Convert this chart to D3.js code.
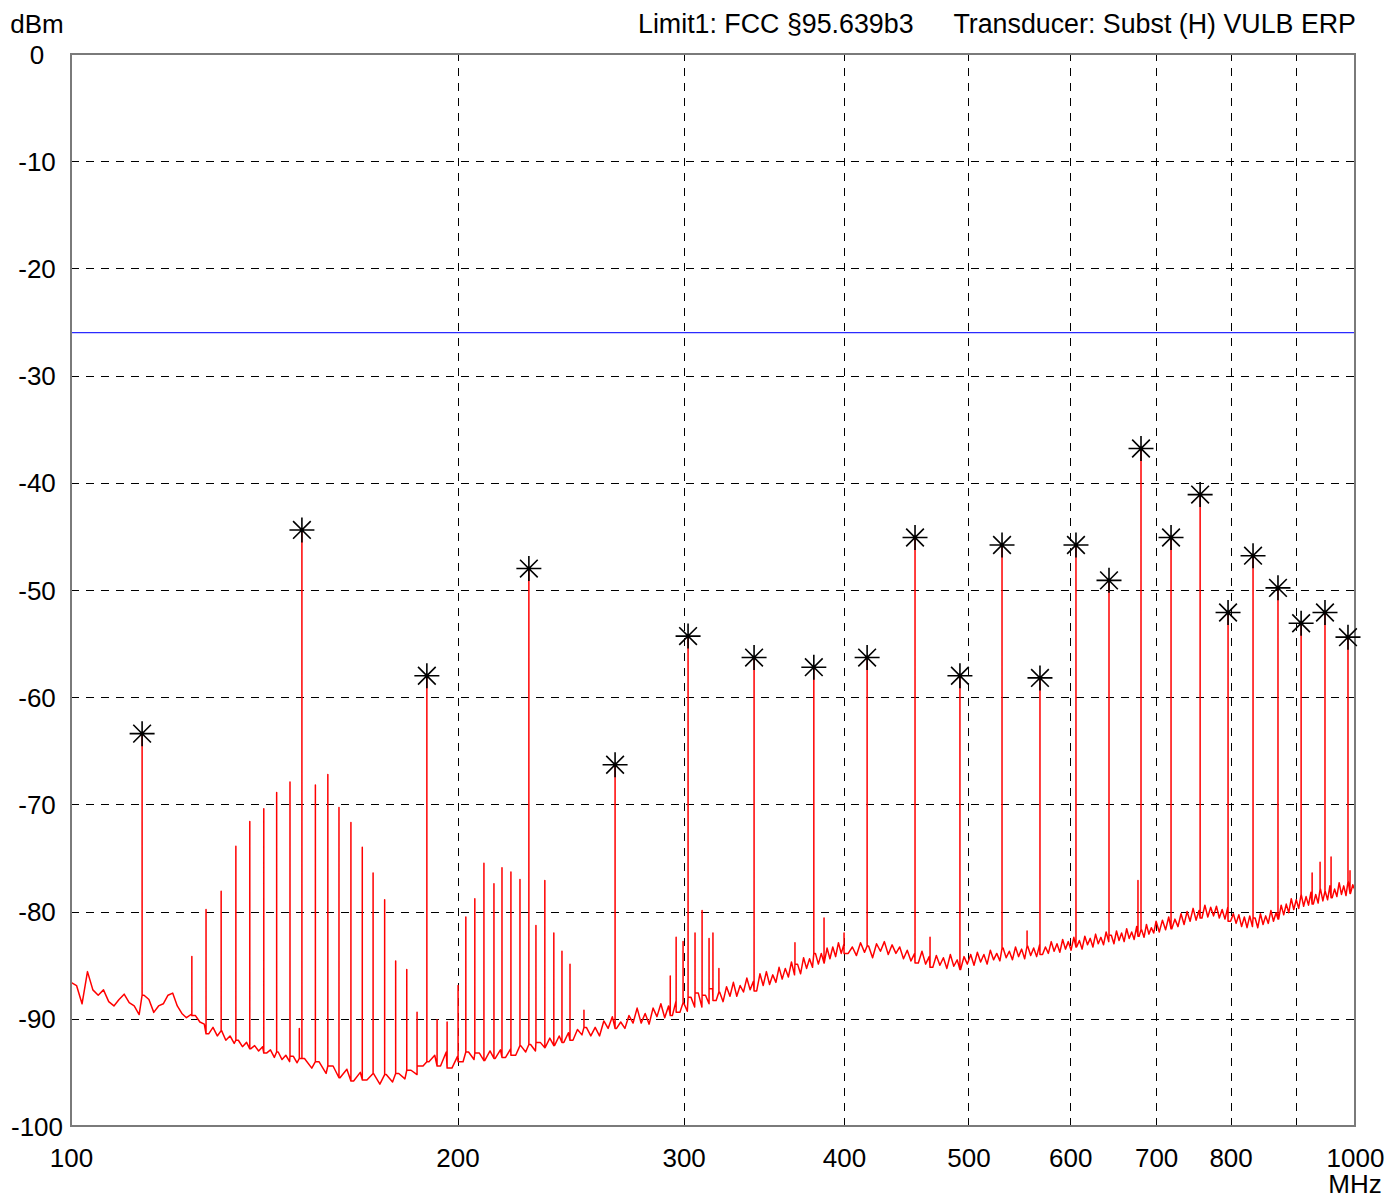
<!DOCTYPE html>
<html>
<head>
<meta charset="utf-8">
<script src="https://cdn.jsdelivr.net/npm/d3@7"></script>
<style>
body { margin: 0; background: #fff; }
text { font-family: "Liberation Sans", Arial, sans-serif; font-size: 26px; fill: #000; }
</style>
</head>
<body>
<div id="container"></div>
<script>
let WIDTH = 1387;
let HEIGHT = 1198;
let LEFT = 71, TOP = 54, RIGHT = 1355, BOTTOM = 1126;

// limit line (dBm)
let limitLevel = -26;

let xTicks = [100, 200, 300, 400, 500, 600, 700, 800, 900, 1000];
let xTickLabels = ["100", "200", "300", "400", "500", "600", "700", "800", "", "1000"];
let yTicks = [0, -10, -20, -30, -40, -50, -60, -70, -80, -90, -100];

// noise floor of the sweep, [MHz, dBm]
let floorTrace = [
    [100, -86.6], [101, -86.9], [102, -88.6], [103, -85.6], [104, -87.3], [105, -87.8],
    [106, -87.3], [107, -88.4], [108, -88.8], [109, -88.2], [110, -87.7], [111, -88.5],
    [112, -88.8], [113, -89.6], [114, -87.8], [115, -88.2], [116, -89.4], [117, -88.8],
    [118, -88.6], [119, -87.8], [120, -87.6], [121, -88.8], [122, -89.5], [123, -89.9],
    [124, -89.6], [125, -89.7], [126, -90.3], [127, -90.5], [128, -91.4], [129, -90.8],
    [130, -91.6], [131, -91.1], [132, -92.0], [133, -91.6], [134, -92.3], [135, -92.0],
    [136, -92.6], [137, -92.2], [138, -92.8], [139, -92.5], [140, -93.0], [141, -92.6],
    [142, -93.2], [143, -92.9], [144, -93.6], [145, -93.1], [146, -93.8], [147, -93.4],
    [148, -94.0], [149, -93.5], [150, -94.1],
    [152, -93.7], [154, -94.6], [156, -94.0], [158, -95.1], [160, -94.4], [162, -95.5],
    [164, -94.7], [166, -95.8], [168, -95.0], [170, -95.7], [172, -95.1], [174, -96.1],
    [176, -95.2], [178, -95.9], [180, -95.1], [182, -95.6], [184, -94.8], [186, -95.2],
    [188, -94.4], [190, -94.0], [192, -93.4], [194, -94.4], [196, -93.1], [198, -94.6],
    [200, -93.5], [202, -94.0], [204, -93.1], [206, -93.8], [208, -93.2], [210, -93.9],
    [212, -93.0], [214, -93.7], [216, -92.9], [218, -93.6], [220, -92.8], [222, -93.4],
    [224, -92.5], [226, -93.1], [228, -92.4], [230, -93.0], [232, -92.2], [234, -92.7],
    [236, -91.8], [238, -92.5], [240, -91.6], [242, -92.2], [244, -91.3], [246, -92.0],
    [248, -91.0], [250, -91.5],
    [252, -90.8], [254, -91.6], [256, -90.8], [258, -91.6], [260, -90.2], [262, -90.9],
    [264, -89.8], [266, -90.9], [268, -90.3], [270, -90.9], [272, -89.7], [274, -90.4],
    [276, -89.0], [278, -90.4], [280, -89.5], [282, -90.5], [284, -89.0], [286, -89.8],
    [288, -88.6], [290, -89.9], [292, -88.8], [294, -89.7], [296, -88.3], [298, -89.4],
    [300, -88.5], [302, -89.3], [304, -88.0], [306, -88.9], [308, -87.6], [310, -88.9],
    [312, -87.8], [314, -88.6], [316, -87.2], [318, -88.3], [320, -87.5], [322, -88.4],
    [324, -87.0], [326, -87.9], [328, -86.6], [330, -87.9], [332, -86.9], [334, -87.5],
    [336, -86.2], [338, -87.3], [340, -86.5], [342, -87.4], [344, -85.8], [346, -86.9],
    [348, -85.6], [350, -86.8], [352, -85.9], [354, -86.6], [356, -85.2], [358, -86.3],
    [360, -85.3], [362, -86.1], [364, -84.7], [366, -85.9], [368, -84.9], [370, -85.8],
    [372, -84.3], [374, -85.3], [376, -84.4], [378, -85.2], [380, -83.9], [382, -84.9],
    [384, -83.9], [386, -84.8], [388, -83.4], [390, -84.4], [392, -83.3], [394, -84.2],
    [396, -82.9], [398, -83.9],
    [400, -83.0], [403, -83.9], [406, -83.3], [409, -84.1], [412, -82.9], [415, -83.8],
    [418, -83.2], [421, -84.3], [424, -83.0], [427, -83.7], [430, -82.8], [433, -84.0],
    [436, -83.1], [439, -83.9], [442, -83.3], [445, -84.4], [448, -83.6], [451, -84.6],
    [454, -83.9], [457, -84.8], [460, -83.7], [463, -84.9], [466, -84.2], [469, -85.2],
    [472, -84.1], [475, -85.0], [478, -84.3], [481, -85.3], [484, -84.0], [487, -85.1],
    [490, -84.5], [493, -85.4], [496, -84.2], [499, -84.9], [502, -84.0], [505, -85.0],
    [508, -83.8], [511, -84.7], [514, -84.0], [517, -84.9], [520, -83.6], [523, -84.5],
    [526, -83.9], [529, -84.6], [532, -83.4], [535, -84.3], [538, -83.7], [541, -84.5],
    [544, -83.3], [547, -84.2], [550, -83.5], [553, -84.4], [556, -83.2], [559, -84.1],
    [562, -83.4], [565, -84.2], [568, -83.1], [571, -84.0], [574, -83.3], [577, -83.9],
    [580, -82.8], [583, -83.7], [586, -83.0], [589, -83.8], [592, -82.6], [595, -83.5],
    [598, -82.8], [601, -83.6], [604, -82.4], [607, -83.3], [610, -82.7], [613, -83.5],
    [616, -82.3], [619, -83.1], [622, -82.5], [625, -83.3], [628, -82.1], [631, -83.0],
    [634, -82.4], [637, -83.1], [640, -81.9], [643, -82.8], [646, -82.2], [649, -83.0],
    [652, -81.8], [655, -82.7], [658, -82.0], [661, -82.8], [664, -81.6], [667, -82.5],
    [670, -81.9], [673, -82.6], [676, -81.4], [679, -82.3], [682, -81.7], [685, -82.4],
    [688, -81.2], [691, -82.1], [694, -81.5], [697, -82.0], [700, -80.9],
    [704, -81.9], [708, -80.8], [712, -81.7], [716, -80.5], [720, -81.6], [724, -80.7],
    [728, -81.4], [732, -80.2], [736, -81.2], [740, -80.0], [744, -80.9], [748, -79.7],
    [752, -80.8], [756, -79.9], [760, -80.6], [764, -79.4], [768, -80.5], [772, -79.6],
    [776, -80.4], [780, -79.5], [784, -80.6], [788, -79.8], [792, -80.7], [796, -79.6],
    [800, -80.9], [804, -80.2], [808, -81.1], [812, -80.3], [816, -81.4], [820, -80.5],
    [824, -81.5], [828, -80.4], [832, -81.4], [836, -80.6], [840, -81.5], [844, -80.2],
    [848, -81.2], [852, -80.4], [856, -81.1], [860, -79.9], [864, -80.9], [868, -80.1],
    [872, -80.7], [876, -79.4], [880, -80.3], [884, -79.3], [888, -80.1], [892, -78.8],
    [896, -79.8], [900, -78.9], [904, -79.7], [908, -78.4], [912, -79.5], [916, -78.6],
    [920, -79.4], [924, -78.2], [928, -79.3], [932, -78.4], [936, -79.2], [940, -77.9],
    [944, -79.0], [948, -78.1], [952, -78.9], [956, -77.6], [960, -78.7], [964, -77.9],
    [968, -78.6], [972, -77.3], [976, -78.4], [980, -77.6], [984, -78.5], [988, -77.2],
    [992, -78.3], [996, -77.5], [1000, -78.0]
];

// unmarked spurious lines, [MHz, dBm]
let spurs = [
    [124.2, -84.2], [127.4, -79.8], [130.9, -78.1], [134.4, -73.9], [137.8, -71.6],
    [141.3, -70.4], [144.6, -68.9], [148.1, -67.9], [150.6, -90.9], [155.0, -68.2],
    [158.5, -67.2], [161.7, -70.3], [165.2, -71.7], [168.6, -74.0], [171.9, -76.4],
    [175.5, -78.9], [179.0, -84.6], [182.6, -85.4], [186.0, -89.4],
    [192.8, -90.1], [196.3, -90.3], [200.2, -86.9], [203.0, -80.5], [206.3, -78.8],
    [209.7, -75.5], [213.5, -77.4], [216.6, -75.9], [220.1, -76.3], [223.7, -77.0],
    [230.2, -81.3], [233.9, -77.1], [237.7, -82.0], [241.2, -83.7], [244.7, -84.9],
    [250.9, -89.2],
    [292.9, -86.0], [296.0, -82.4], [299.7, -82.8], [306.2, -82.0], [310.1, -79.9],
    [314.0, -82.5], [316.2, -82.0], [319.6, -85.3], [366.3, -82.9], [385.9, -80.6],
    [400.0, -82.0], [466.7, -82.4], [555.4, -81.8], [677.6, -77.1],
    [926.0, -76.4], [939.3, -75.4], [958.0, -74.9], [991.1, -76.2]
];

// marked peaks, [MHz, dBm]
let peaks = [
    [113.6, -63.4], [151.3, -44.4], [189.3, -58.0], [227.3, -48.0], [265.3, -66.3],
    [302.4, -54.3], [340.4, -56.3], [378.9, -57.2], [416.9, -56.3], [454.3, -45.1],
    [492.4, -58.0], [531.0, -45.8], [568.4, -58.2], [606.3, -45.8], [643.3, -49.1],
    [681.3, -36.8], [719.0, -45.1], [757.5, -41.1], [796.4, -52.1], [832.9, -46.8],
    [871.0, -49.8], [907.9, -53.1], [947.6, -52.1], [987.5, -54.4]
];

let FONT = '"Liberation Sans", Arial, sans-serif';

let x = d3.scaleLog().domain([100, 1000]).range([LEFT, RIGHT]);
let y = d3.scaleLinear().domain([-100, 0]).range([BOTTOM, TOP]);

let svg = d3.select('#container')
    .append('svg')
    .attr('width', WIDTH)
    .attr('height', HEIGHT);

// grid through the axes
let yAxis = d3.axisLeft(y)
    .tickValues(yTicks)
    .tickSize(-(RIGHT - LEFT))
    .tickFormat(d => String(d));
let gy = svg.append('g')
    .attr('transform', `translate(${LEFT},0)`)
    .call(yAxis);
gy.select('.domain').remove();
gy.selectAll('line')
    .attr('stroke', '#000')
    .attr('stroke-dasharray', '8,7')
    .attr('shape-rendering', 'crispEdges');
gy.selectAll('text')
    .attr('x', -34)
    .attr('dy', null)
    .attr('y', 9)
    .attr('text-anchor', 'middle')
    .attr('fill', '#000')
    .style('font-size', '26px')
    .style('font-family', FONT);

let xAxis = d3.axisBottom(x)
    .tickValues(xTicks)
    .tickSize(-(BOTTOM - TOP))
    .tickFormat((d, i) => xTickLabels[i]);
let gx = svg.append('g')
    .attr('transform', `translate(0,${BOTTOM})`)
    .call(xAxis);
gx.select('.domain').remove();
gx.selectAll('line')
    .attr('stroke', '#000')
    .attr('stroke-dasharray', '8,7')
    .attr('shape-rendering', 'crispEdges');
gx.selectAll('text')
    .attr('y', 41)
    .attr('dy', null)
    .attr('fill', '#000')
    .style('font-size', '26px')
    .style('font-family', FONT);

// limit line
svg.append('line')
    .attr('x1', x(100)).attr('x2', x(1000))
    .attr('y1', y(limitLevel)).attr('y2', y(limitLevel))
    .attr('stroke', '#2b2bff')
    .attr('stroke-width', 1.2);

// merge floor and spikes into one trace
let spikeList = spurs.concat(peaks).sort((a, b) => a[0] - b[0]);
let trace = [];
let j = 0;
floorTrace.forEach(d => {
    while (j < spikeList.length && spikeList[j][0] < d[0]) {
        let s = spikeList[j++];
        trace.push([s[0], d[1]], s, [s[0], d[1]]);
    }
    trace.push(d);
});

let line = d3.line()
    .x(d => x(d[0]))
    .y(d => y(d[1]));

svg.append('path')
    .datum(trace)
    .attr('fill', 'none')
    .attr('stroke', '#ff0000')
    .attr('stroke-width', 1.5)
    .attr('stroke-linejoin', 'round')
    .attr('d', line);

// frame
svg.append('rect')
    .attr('x', LEFT).attr('y', TOP)
    .attr('width', RIGHT - LEFT).attr('height', BOTTOM - TOP)
    .attr('fill', 'none')
    .attr('stroke', '#7a7a7a')
    .attr('stroke-width', 2);

// asterisk markers
function star(r) {
    let p = d3.path();
    let k = r * Math.SQRT1_2;
    p.moveTo(-r, 0); p.lineTo(r, 0);
    p.moveTo(0, -r); p.lineTo(0, r);
    p.moveTo(-k, -k); p.lineTo(k, k);
    p.moveTo(-k, k); p.lineTo(k, -k);
    return p.toString();
}
svg.append('g').selectAll('path')
    .data(peaks)
    .join('path')
    .attr('transform', d => `translate(${x(d[0])},${y(d[1])})`)
    .attr('d', star(12.5))
    .attr('stroke', '#000')
    .attr('stroke-width', 1.6)
    .attr('fill', 'none');

// titles
svg.append('text').attr('x', 37).attr('y', 33).attr('text-anchor', 'middle').text('dBm');
svg.append('text').attr('x', 638).attr('y', 33).style('font-size', '26.8px').text('Limit1: FCC §95.639b3');
svg.append('text').attr('x', 1356).attr('y', 33).attr('text-anchor', 'end').style('font-size', '26.8px').text('Transducer: Subst (H) VULB ERP');
svg.append('text').attr('x', x(1000)).attr('y', 1193).attr('text-anchor', 'middle').text('MHz');
</script>
</body>
</html>
